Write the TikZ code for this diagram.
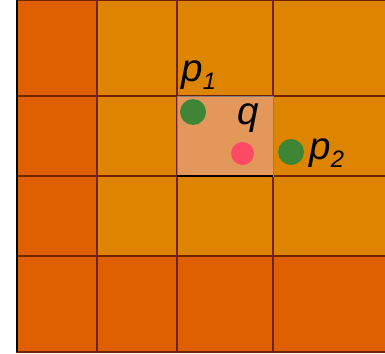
\documentclass[tikz,border=0pt]{standalone}
\usepackage{fontspec}
\setmainfont{Liberation Sans}
\usepackage{tikz}
\definecolor{cellred}{HTML}{DF6000}
\definecolor{cellorange}{HTML}{DD8500}
\definecolor{cellhigh}{HTML}{E3975B}
\definecolor{gridline}{HTML}{6E2400}
\definecolor{dotgreen}{HTML}{3E8535}
\definecolor{dotred}{HTML}{FF4A66}
\newcommand{\ptlabel}[2]{#1\raisebox{-0.16cm}{\fontsize{13.5}{13.5}\selectfont #2}}

\begin{document}
\begin{tikzpicture}[x=0.02cm,y=-0.02cm,
  cell/.style={draw=gridline,line width=0.7pt},
  dot/.style={circle,inner sep=0pt,minimum size=#1},
  ptname/.style={inner sep=0pt,anchor=base west,font=\fontsize{22}{22}\selectfont\itshape}]
  \useasboundingbox (0,0) rectangle (385,354);
  \begin{scope}
    \clip (0,0) rectangle (385,354);
    % first column and bottom row
    \foreach \ya/\yb in {0/96,96/176,176/256}
      \draw[cell,fill=cellred] (17,\ya) rectangle (97,\yb);
    \foreach \xa/\xb in {17/97,97/177,177/273,273/400}
      \draw[cell,fill=cellred] (\xa,256) rectangle (\xb,352);
    % inner cells
    \foreach \xa/\xb in {97/177,177/273,273/400}
      \foreach \ya/\yb in {0/96,96/176,176/256}
        \draw[cell,fill=cellorange] (\xa,\ya) rectangle (\xb,\yb);
    \draw[draw=gray,line width=0.5pt,fill=cellhigh] (177,96) rectangle (273,176);
    \draw[black,line width=0.6pt] (177,176) -- (273,176);
    \draw[black,line width=0.8pt] (17,0) -- (17,352);
  \end{scope}
  \node[dot=0.52cm,fill=dotgreen] (p1) at (193,112) {};
  \node[dot=0.46cm,fill=dotred] (q) at (242.5,153.5) {};
  \node[dot=0.52cm,fill=dotgreen] (p2) at (291,152) {};
  \node[ptname] (p1name) at (181,82) {\ptlabel{p}{1}};
  \node[ptname] (qname) at (237,125) {q};
  \node[ptname] (p2name) at (309,160) {\ptlabel{p}{2}};
\end{tikzpicture}
\end{document}
